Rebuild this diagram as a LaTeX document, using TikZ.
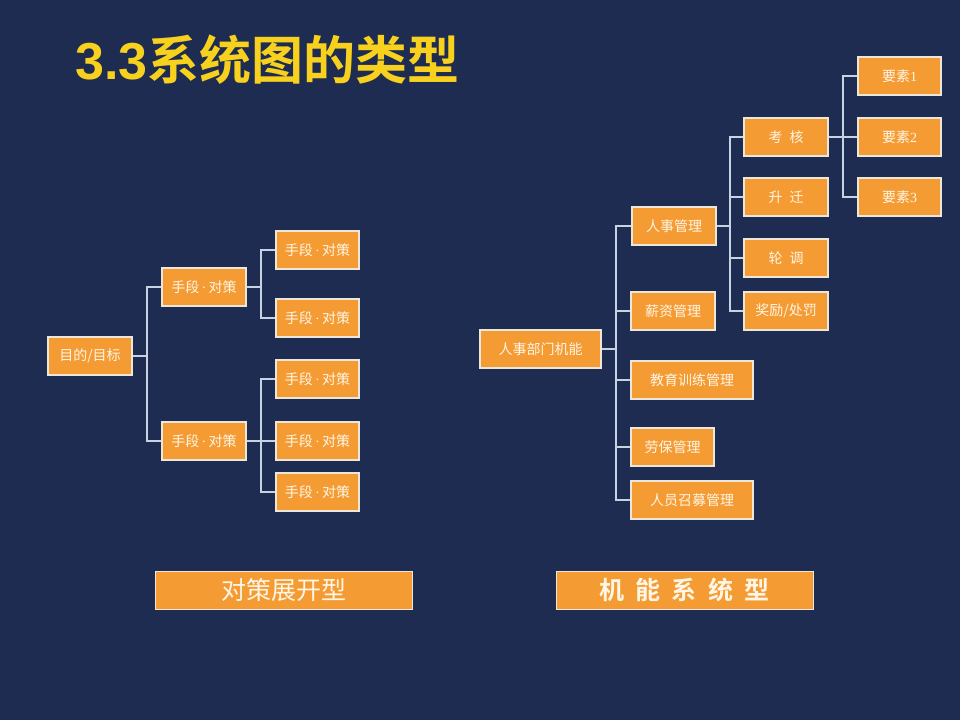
\documentclass[tikz,border=0pt]{standalone}
\usepackage{fontspec}
\newfontfamily\cjk{Noto Sans CJK SC}
\newfontfamily\cjkb{Noto Sans CJK SC}[BoldFont={* Bold}]
\newfontfamily\serifdig{Liberation Serif}
\newfontfamily\arialb{Liberation Sans}
\definecolor{bg}{HTML}{1F2C51}
\definecolor{boxfill}{HTML}{F59B33}
\definecolor{boxline}{HTML}{EDE6DA}
\definecolor{txt}{HTML}{FFF6E6}
\definecolor{conn}{HTML}{C9D2E3}
\definecolor{ttl}{HTML}{F7D11E}
\newcommand{\sdot}{{\serifdig\,·\,}}
\tikzset{
  bx/.style={draw=boxline, line width=1.2pt, fill=boxfill, text=txt, inner sep=0pt,
     minimum width=#1, minimum height=38pt, font=\cjk\fontsize{14}{16}\selectfont},
  bx/.default=84pt,
  cn/.style={draw=conn, line width=1.6pt},
  capbox/.style={draw=boxline, line width=1pt, fill=boxfill, text=txt, minimum width=257pt,
     minimum height=38pt, inner sep=0pt},
}
\begin{document}
\begin{tikzpicture}[x=1pt,y=-1pt]
\fill[bg] (0,0) rectangle (960,720);
\useasboundingbox (0,0) rectangle (960,720);
% title
\node[anchor=west, text=ttl, inner sep=0pt] (t) at (75,60) {\fontsize{52}{56}\selectfont\arialb\bfseries 3.3\cjkb\bfseries 系统图的类型};
% left tree
\node[bx] (g) at (90,356) {目的/目标};
\node[bx] (m1) at (204,287) {手段\sdot 对策};
\node[bx] (m2) at (204,441) {手段\sdot 对策};
\node[bx=83pt] (r1) at (317.5,250) {手段\sdot 对策};
\node[bx=83pt] (r2) at (317.5,318) {手段\sdot 对策};
\node[bx=83pt] (r3) at (317.5,379) {手段\sdot 对策};
\node[bx=83pt] (r4) at (317.5,441) {手段\sdot 对策};
\node[bx=83pt] (r5) at (317.5,492) {手段\sdot 对策};
\coordinate (ja) at (147,356);
\draw[cn] (g.east) -- (ja);
\draw[cn] (m1.west) -| (ja) |- (m2.west);
\coordinate (jb) at (261,287);
\draw[cn] (m1.east) -- (jb);
\draw[cn] (r1.west) -| (jb) |- (r2.west);
\coordinate (jc) at (261,441);
\draw[cn] (m2.east) -- (r4.west);
\draw[cn] (r3.west) -| (jc) |- (r5.west);
% right tree
\node[bx=121pt] (h) at (540.5,349) {人事部门机能};
\node[bx] (p1) at (674,226) {人事管理};
\node[bx] (p2) at (673,311) {薪资管理};
\node[bx=122pt] (p3) at (692,380) {教育训练管理};
\node[bx=83pt] (p4) at (672.5,447) {劳保管理};
\node[bx=122pt] (p5) at (692,500) {人员召募管理};
\node[bx] (q1) at (786,137) {考\enspace 核};
\node[bx] (q2) at (786,197) {升\enspace 迁};
\node[bx] (q3) at (786,258) {轮\enspace 调};
\node[bx] (q4) at (786,311) {奖励/处罚};
\node[bx=83pt] (e1) at (899.5,76) {要素{\serifdig 1}};
\node[bx=83pt] (e2) at (899.5,137) {要素{\serifdig 2}};
\node[bx=83pt] (e3) at (899.5,197) {要素{\serifdig 3}};
\coordinate (ka) at (616,349);
\draw[cn] (h.east) -- (ka);
\draw[cn] (p1.west) -| (ka) |- (p5.west);
\draw[cn] (ka |- p2.west) -- (p2.west);
\draw[cn] (ka |- p3.west) -- (p3.west);
\draw[cn] (ka |- p4.west) -- (p4.west);
\coordinate (kb) at (730,226);
\draw[cn] (p1.east) -- (kb);
\draw[cn] (q1.west) -| (kb) |- (q4.west);
\draw[cn] (kb |- q2.west) -- (q2.west);
\draw[cn] (kb |- q3.west) -- (q3.west);
\coordinate (kc) at (843,137);
\draw[cn] (q1.east) -- (e2.west);
\draw[cn] (e1.west) -| (kc) |- (e3.west);
% captions
\node[capbox, font=\cjk\fontsize{25}{28}\selectfont] (c1) at (283.5,590) {对策展开型};
\node[capbox, font=\cjkb\bfseries\fontsize{25}{28}\selectfont] (c2) at (684.5,590) {机\hspace{0.45em}能\hspace{0.45em}系\hspace{0.45em}统\hspace{0.45em}型};
\end{tikzpicture}
\end{document}
